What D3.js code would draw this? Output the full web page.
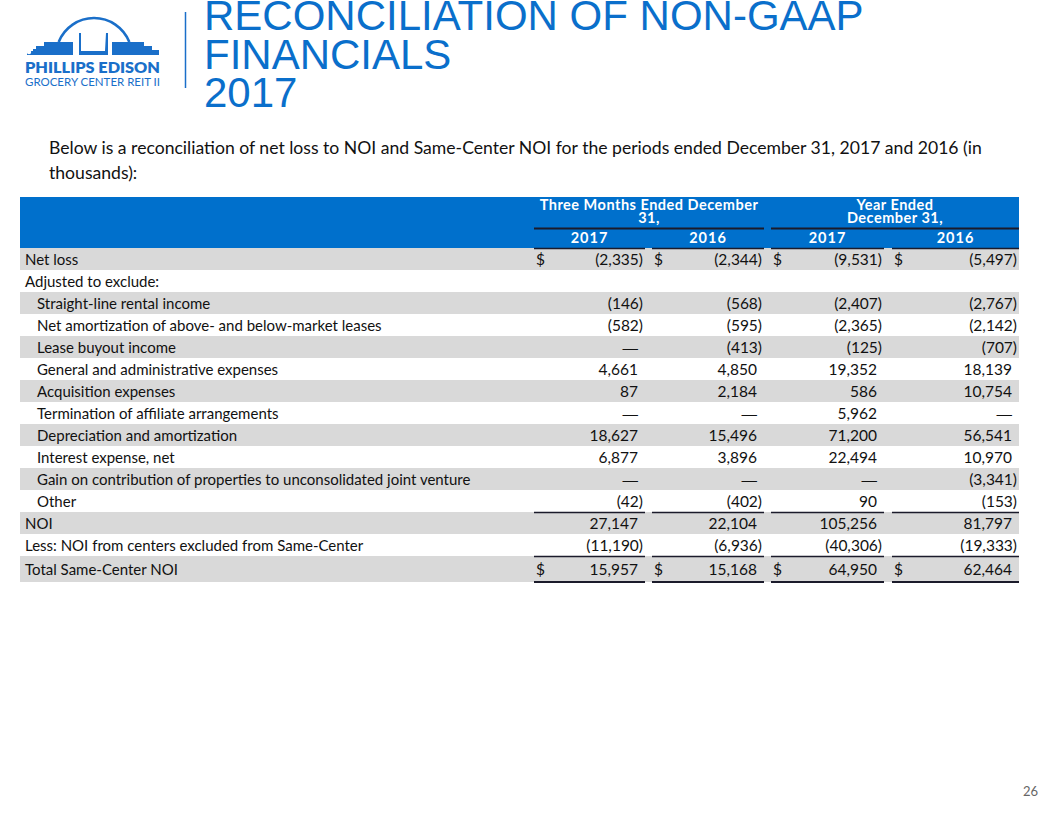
<!DOCTYPE html>
<html><head><meta charset="utf-8">
<script src="https://cdn.jsdelivr.net/npm/d3@7"></script>
<style>body{margin:0;background:#fff}svg{display:block}</style>
</head><body>
<svg id="c" width="1056" height="816"></svg>
<script>
// ---------- DATA ----------
const titleLines = ["RECONCILIATION OF NON-GAAP", "FINANCIALS", "2017"];
const introLines = ["Below is a reconciliation of net loss to NOI and Same-Center NOI for the periods ended December 31, 2017 and 2016 (in", "thousands):"];
const groupHeaders = [["Three Months Ended December", "31,"], ["Year Ended", "December 31,"]];
const yearLabels = ["2017", "2016", "2017", "2016"];
const rowLabels = [
  "Net loss",
  "Adjusted to exclude:",
  "Straight-line rental income",
  "Net amortization of above- and below-market leases",
  "Lease buyout income",
  "General and administrative expenses",
  "Acquisition expenses",
  "Termination of affiliate arrangements",
  "Depreciation and amortization",
  "Interest expense, net",
  "Gain on contribution of properties to unconsolidated joint venture",
  "Other",
  "NOI",
  "Less: NOI from centers excluded from Same-Center",
  "Total Same-Center NOI"
];
const rowIndent = [0,0,1,1,1,1,1,1,1,1,1,1,0,0,0];
// null = blank cell, 0 = shown as dash
const q4_2017 = [-2335, null, -146, -582, 0, 4661, 87, 0, 18627, 6877, 0, -42, 27147, -11190, 15957];
const q4_2016 = [-2344, null, -568, -595, -413, 4850, 2184, 0, 15496, 3896, 0, -402, 22104, -6936, 15168];
const fy_2017 = [-9531, null, -2407, -2365, -125, 19352, 586, 5962, 71200, 22494, 0, 90, 105256, -40306, 64950];
const fy_2016 = [-5497, null, -2767, -2142, -707, 18139, 10754, 0, 56541, 10970, -3341, -153, 81797, -19333, 62464];
const dollarRows = [0, 14];
const ruleAboveRows = [12, 14];
const pageNumber = "26";

// ---------- LAYOUT ----------
const BLUE = "#0a6fcb", HEAD = "#0070cc", GRAY = "#d9d9d9", RULE = "#1b1b2b";
const FONT = "Lato, 'Open Sans', sans-serif";
const svg = d3.select("#c");

// Logo
const logo = svg.append("g").attr("fill", "#1a6fc9");
const arcPath = d3.path();
arcPath.arc(94, 56, 38, Math.PI*1.12, Math.PI*1.88);
logo.append("path").attr("d", arcPath.toString()).attr("fill","none").attr("stroke","#1a6fc9").attr("stroke-width",2.6);
logo.append("path").attr("d",
  "M27,55 L27,51 L33,51 L33,49 L36,49 L36,46 L44,46 L44,42 L73,42 L73,55 Z");
logo.append("circle").attr("cx",29).attr("cy",52).attr("r",2.2).attr("fill","#fff");
logo.append("path").attr("d",
  "M79,55 L79,33 L81,33 L81,51 L105,51 L106,33 L108,33 L108,55 Z");
logo.append("path").attr("d",
  "M112,55 L112,42 L144,42 L144,46 L152,46 L152,50 L159,50 L159,55 Z");
logo.append("text").attr("x",25).attr("y",73).attr("font-family",FONT).attr("font-weight",800)
  .attr("font-size",15.5).attr("textLength",135).attr("lengthAdjust","spacingAndGlyphs").text("PHILLIPS EDISON");
logo.append("text").attr("x",25).attr("y",86).attr("font-family",FONT).attr("font-weight",400)
  .attr("font-size",11.5).attr("textLength",135).attr("lengthAdjust","spacingAndGlyphs").text("GROCERY CENTER REIT II");
svg.append("line").attr("x1",185.5).attr("x2",185.5).attr("y1",12).attr("y2",88)
  .attr("stroke","#1a6fc9").attr("stroke-width",1.5);

// Title
svg.append("g").selectAll("text").data(titleLines).join("text")
  .attr("x", 204).attr("y", (d,i) => 30 + i*38.5)
  .attr("font-family","'Liberation Sans', Arial, sans-serif").attr("font-size",42)
  .attr("fill", BLUE).text(d => d);

// Intro
svg.append("g").selectAll("text").data(introLines).join("text")
  .attr("x", 49).attr("y", (d,i) => 154 + i*25)
  .attr("font-family",FONT).attr("font-size",17.6).attr("fill","#111").text(d => d);

// Table geometry
const tableLeft = 20, tableRight = 1019;
const periods = ["q4_2017","q4_2016","fy_2017","fy_2016"];
const columns = [q4_2017, q4_2016, fy_2017, fy_2016];
const colStart = d3.scaleOrdinal().domain(periods).range([534, 652, 771, 892]);
const colEnd = d3.scaleOrdinal().domain(periods).range([645, 764, 884, 1019]);
const rowTop = d3.scaleLinear().domain([0, 1]).range([248, 270]);
const rowH = i => i === 14 ? 26 : 22;

// Header
const headTop = 197, headBottom = 248;
svg.append("rect").attr("x",tableLeft).attr("y",headTop).attr("width",tableRight-tableLeft).attr("height",headBottom-headTop).attr("fill",HEAD);
const groupSpan = [[colStart(periods[0]), colEnd(periods[1])],[colStart(periods[2]), colEnd(periods[3])]];
groupHeaders.forEach((lines, g) => {
  const cx = (groupSpan[g][0] + groupSpan[g][1]) / 2;
  svg.append("g").selectAll("text").data(lines).join("text")
    .attr("x", cx).attr("y", (d,i) => 209.5 + i*13.5).attr("text-anchor","middle")
    .attr("font-family",FONT).attr("font-weight",700).attr("font-size",14.5)
    .attr("letter-spacing",0.5).attr("fill","#fff").text(d=>d);
  svg.append("line").attr("x1",groupSpan[g][0]).attr("x2",groupSpan[g][1]).attr("y1",228.5).attr("y2",228.5)
    .attr("stroke",RULE).attr("stroke-width",1.8);
});
svg.append("g").selectAll("text").data(periods).join("text")
  .attr("x", p => (colStart(p)+colEnd(p))/2).attr("y", 243).attr("text-anchor","middle")
  .attr("font-family",FONT).attr("font-weight",700).attr("font-size",14.5).attr("letter-spacing",1)
  .attr("fill","#fff")
  .text((p,i) => yearLabels[i]);

// Row bands
const body = svg.append("g");
rowLabels.forEach((lab, i) => {
  const top = rowTop(i), h = rowH(i);
  if (i % 2 === 0) body.append("rect").attr("x",tableLeft).attr("y",top).attr("width",tableRight-tableLeft).attr("height",h).attr("fill",GRAY);
});
body.selectAll("text.lab").data(rowLabels).join("text").attr("class","lab")
  .attr("x", (d,i) => rowIndent[i] ? 37 : 25)
  .attr("y", (d,i) => rowTop(i) + rowH(i)/2 + 5.5)
  .attr("font-family",FONT).attr("font-size",15).attr("fill","#111").text(d=>d);

// Values
const fmt = d3.format(",");
const PAREN = 5;
periods.forEach((p, c) => {
  const vals = columns[c];
  const g = body.append("g");
  vals.forEach((v, i) => {
    if (v === null) return;
    const y = rowTop(i) + rowH(i)/2 + 5.5;
    let txt, x, fam = FONT;
    if (v === 0) { txt = "\u2014"; x = colEnd(p) - PAREN - 2; fam = "'Liberation Sans', sans-serif"; }
    else if (v < 0) { txt = "(" + fmt(-v) + ")"; x = colEnd(p) - 2; }
    else { txt = fmt(v); x = colEnd(p) - PAREN - 2; }
    g.append("text").attr("x", x).attr("y", y).attr("text-anchor","end")
      .attr("font-family",fam).attr("font-size",15.5).attr("fill","#111").text(txt);
    if (dollarRows.includes(i)) {
      g.append("text").attr("x", colStart(p) + 2).attr("y", y)
        .attr("font-family",FONT).attr("font-size",15.5).attr("fill","#111").text("$");
    }
  });
  // rules
  const ruleYs = [rowTop(0)].concat(ruleAboveRows.map(r => rowTop(r)));
  ruleYs.forEach(y => g.append("line").attr("x1",colStart(p)).attr("x2",colEnd(p)).attr("y1",y+0.5).attr("y2",y+0.5)
    .attr("stroke",RULE).attr("stroke-width",1.6));
  const yb = rowTop(14) + rowH(14);
  g.append("line").attr("x1",colStart(p)).attr("x2",colEnd(p)).attr("y1",yb).attr("y2",yb)
    .attr("stroke",RULE).attr("stroke-width",2.2);
});

// Page number
svg.append("text").attr("x",1038).attr("y",796).attr("text-anchor","end")
  .attr("font-family",FONT).attr("font-size",13).attr("fill","#666").text(pageNumber);
</script>
</body></html>
